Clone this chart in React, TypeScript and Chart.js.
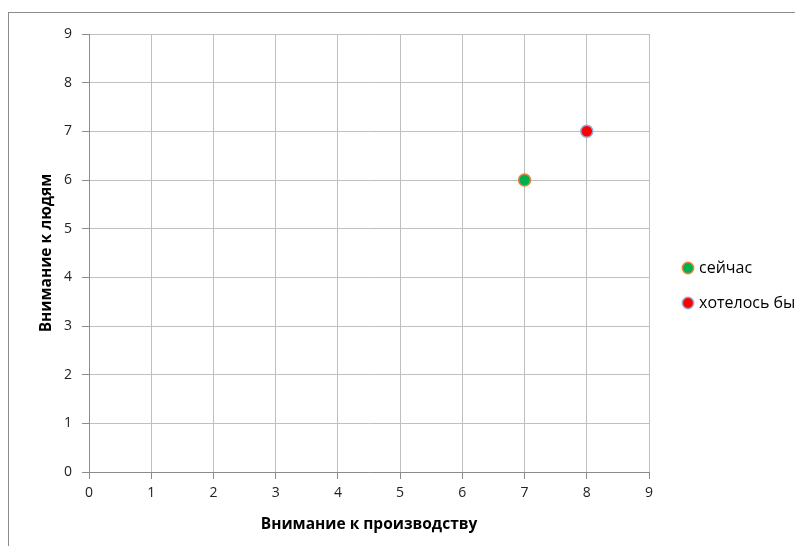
import React, { useEffect, useRef } from "react";
import { Chart, registerables } from "chart.js";

Chart.register(...registerables);

const seriesNames = ["сейчас", "хотелось бы"];
const nowX = [7];
const nowY = [6];
const wishX = [8];
const wishY = [7];
const xTitle = "Внимание к производству";
const yTitle = "Внимание к людям";
const axisMin = 0;
const axisMax = 9;
const axisStep = 1;

const FONT = "'Open Sans', 'DejaVu Sans', sans-serif";

export default function App() {
  const ref = useRef<HTMLCanvasElement | null>(null);

  useEffect(() => {
    if (!ref.current) return;
    const chart = new Chart(ref.current, {
      type: "scatter",
      data: {
        datasets: [
          {
            label: seriesNames[0],
            data: nowX.map((x, i) => ({ x, y: nowY[i] })),
            backgroundColor: "#00B050",
            borderColor: "#E5873A",
            borderWidth: 1.5,
            pointRadius: 6,
            pointHoverRadius: 6,
          },
          {
            label: seriesNames[1],
            data: wishX.map((x, i) => ({ x, y: wishY[i] })),
            backgroundColor: "#FF0000",
            borderColor: "#95A9D6",
            borderWidth: 1.5,
            pointRadius: 6,
            pointHoverRadius: 6,
          },
        ],
      },
      options: {
        animation: false,
        responsive: false,
        maintainAspectRatio: false,
        layout: { padding: { top: 21, left: 0, right: 0, bottom: 13 } },
        plugins: {
          tooltip: { enabled: false },
          legend: {
            position: "right",
            maxWidth: 129,
            labels: {
              usePointStyle: true,
              pointStyle: "circle",
              boxWidth: 6,
              boxHeight: 8,
              padding: 19,
              color: "#000",
              font: { family: FONT, size: 16 },
            },
          },
        },
        scales: {
          x: {
            type: "linear",
            min: axisMin,
            max: axisMax,
            ticks: {
              stepSize: axisStep,
              padding: 6,
              color: "#222",
              font: { family: FONT, size: 14 },
            },
            grid: { color: "#BFBFBF", tickColor: "#8C8C8C", tickLength: 7 },
            border: { color: "#8C8C8C" },
            title: {
              display: true,
              text: xTitle,
              color: "#000",
              font: { family: FONT, size: 15.5, weight: "bold" },
              padding: { top: 0, bottom: 3 },
            },
            afterFit: (s: any) => {
              s.height = 65;
            },
          },
          y: {
            type: "linear",
            min: axisMin,
            max: axisMax,
            ticks: {
              stepSize: axisStep,
              padding: 10,
              color: "#222",
              font: { family: FONT, size: 14 },
            },
            grid: { color: "#BFBFBF", tickColor: "#8C8C8C", tickLength: 7 },
            border: { color: "#8C8C8C" },
            title: {
              display: true,
              text: yTitle,
              color: "#000",
              font: { family: FONT, size: 15.5, weight: "bold" },
              padding: { top: 28.5, bottom: 0 },
            },
            afterFit: (s: any) => {
              s.width = 80;
            },
          },
          gap: {
            type: "linear",
            position: "right",
            display: true,
            ticks: { display: false },
            grid: { display: false, drawTicks: false },
            border: { display: false },
            afterFit: (s: any) => {
              s.width = 17;
            },
          },
        },
      },
    });
    return () => chart.destroy();
  }, []);

  return (
    <div
      style={{
        position: "relative",
        top: 4,
        width: 787,
        height: 538,
        borderLeft: "1px solid #8C8C8C",
        borderTop: "1px solid #8C8C8C",
        boxSizing: "border-box",
        background: "#fff",
      }}
    >
      <canvas ref={ref} width={786} height={537} style={{ display: "block" }} />
    </div>
  );
}
